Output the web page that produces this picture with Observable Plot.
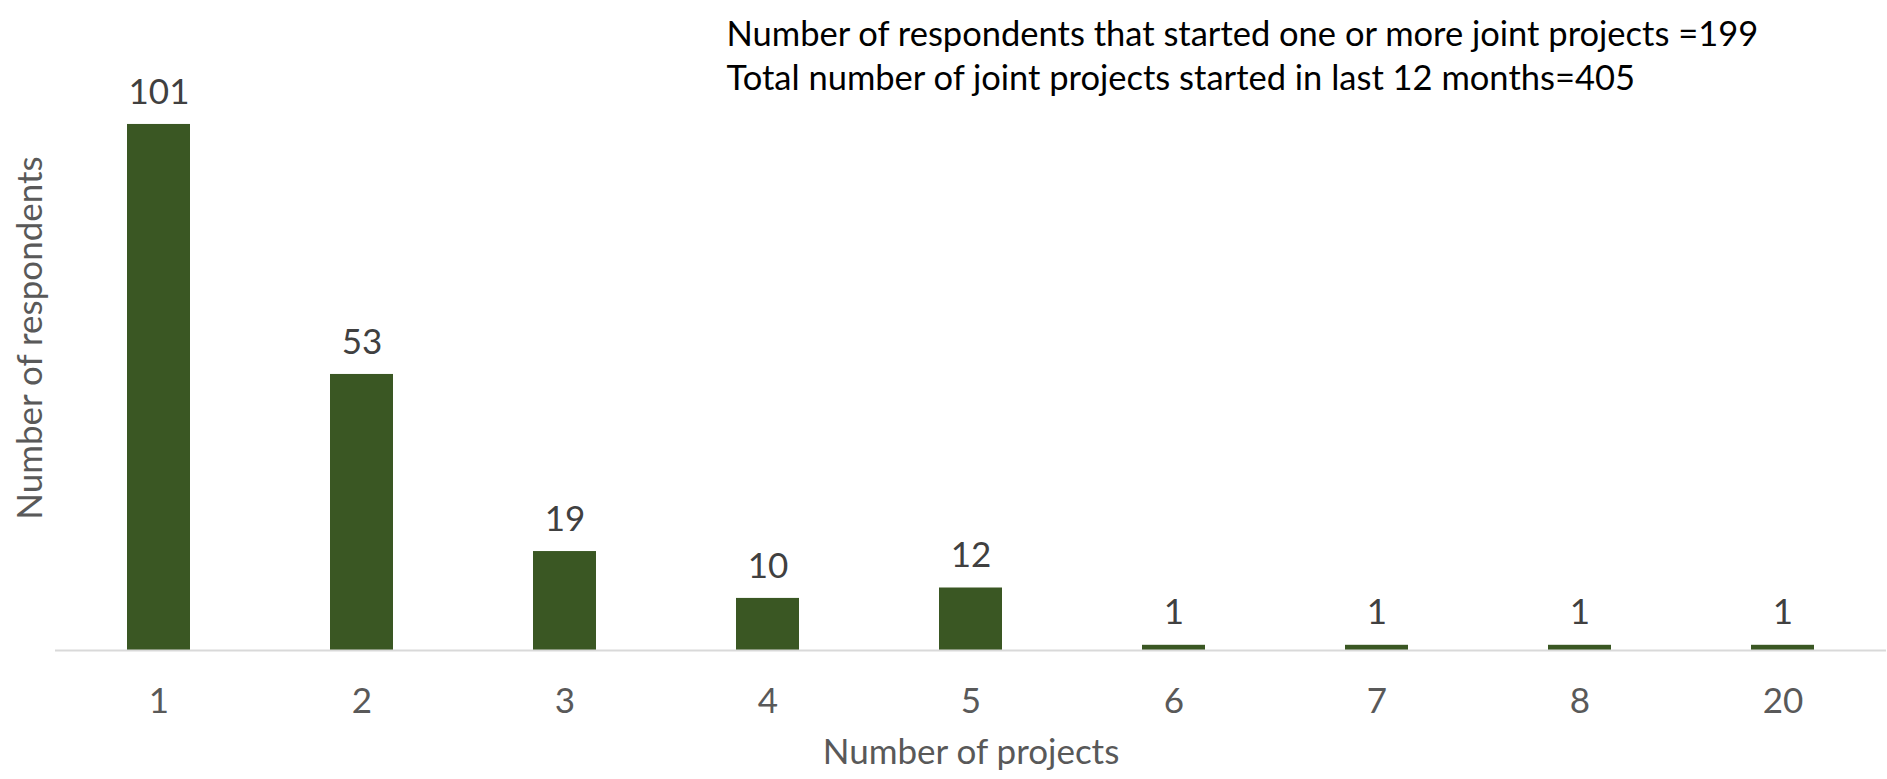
<!DOCTYPE html>
<html><head><meta charset="utf-8">
<script src="https://cdn.jsdelivr.net/npm/d3@7"></script>
<script src="https://cdn.jsdelivr.net/npm/@observablehq/plot@0.6"></script>
<style>body{margin:0;background:#fff}</style>
</head><body><div id="chart"></div>
<script>
const categories = ["1","2","3","4","5","6","7","8","20"];
const respondents = [101,53,19,10,12,1,1,1,1];
const noteLines = ["Number of respondents that started one or more joint projects =199","Total number of joint projects started in last 12 months=405"];
const xTitle = "Number of projects";
const yTitle = "Number of respondents";

const data = categories.map((c, i) => ({cat: c, n: respondents[i]}));
const font = "Lato, 'Open Sans', sans-serif";
const fs = 35;
const noteSize = 34.5;
const chart = Plot.plot({
  width: 1887, height: 779,
  marginLeft: 55, marginRight: 1, marginTop: 25, marginBottom: 129,
  style: {fontFamily: font, background: "#fff", overflow: "visible"},
  x: {domain: categories, paddingInner: 0.69, paddingOuter: 0.345, label: null},
  y: {domain: [0, 120], axis: null},
  marks: [
    Plot.barY(data, {x: "cat", y: "n", fill: "#3A5723"}),
    Plot.ruleY([0], {stroke: "#D9D9D9", strokeWidth: 2}),
    Plot.text(data, {x: "cat", y: "n", text: d => String(d.n), dy: -32, lineAnchor: "middle", fontSize: fs, fill: "#404040"}),
    Plot.axisX({tickSize: 0, tickPadding: 38, fontSize: fs, fill: "#595959", label: null}),
    Plot.text([xTitle], {frameAnchor: "bottom", dy: 102, lineAnchor: "middle", fontSize: fs, fill: "#595959"}),
    Plot.text([yTitle], {frameAnchor: "left", rotate: -90, dx: -25, textAnchor: "middle", lineAnchor: "middle", fontSize: fs, fill: "#595959"}),
    Plot.text([noteLines.join("\n")], {frameAnchor: "top-left", textAnchor: "start", dx: 671, dy: 28, lineAnchor: "middle", lineHeight: 44 / noteSize, fontSize: noteSize, fill: "#000"})
  ]
});
document.getElementById("chart").appendChild(chart);
</script>
</body></html>
